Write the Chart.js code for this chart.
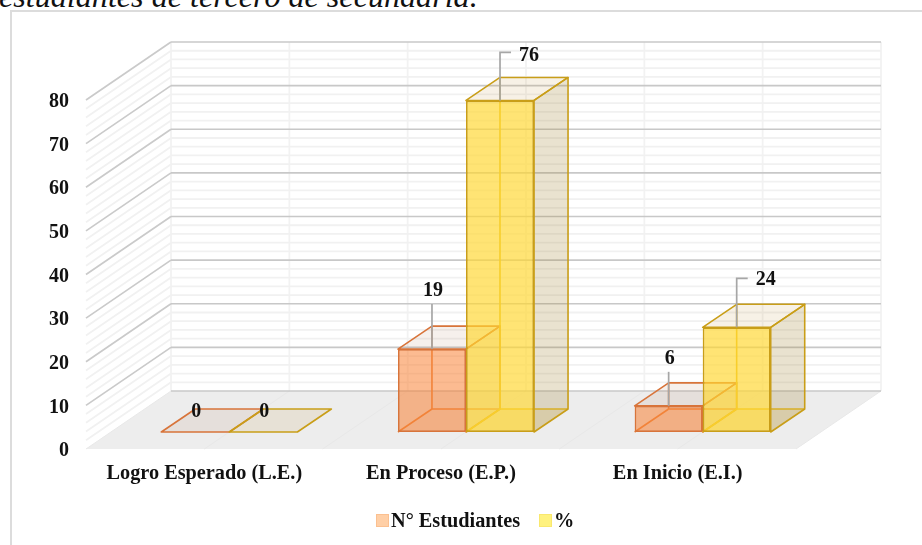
<!DOCTYPE html>
<html lang="es">
<head>
<meta charset="utf-8">
<title>Niveles de logro</title>
<script src="https://cdn.jsdelivr.net/npm/chart.js@4"></script>
<style>
  html, body { margin: 0; padding: 0; background: #fff; overflow: hidden; }
  #wrap { position: relative; width: 922px; height: 545px; overflow: hidden; }
  #caption {
    position: absolute; left: -1px; top: -22px; white-space: nowrap;
    font: italic 32.15px "Liberation Serif", serif; color: #111;
  }
  #frame {
    position: absolute; left: 10px; top: 10px; width: 920px; height: 545px;
    border: 2px solid #dcdcdc; box-sizing: border-box;
  }
  canvas { position: absolute; left: 0; top: 0; }
</style>
</head>
<body>
<div id="wrap">
  <div id="caption">estudiantes de tercero de secundaria.</div>
  <div id="frame"></div>
  <canvas id="chart" width="922" height="545"></canvas>
</div>
<script>
const categories = ["Logro Esperado (L.E.)", "En Proceso (E.P.)", "En Inicio (E.I.)"];
const estudiantes = [0, 19, 6];
const porcentaje = [0, 76, 24];
const seriesNames = ["N° Estudiantes", "%"];

// how far each label and its leader sit above the bar top
const labelRise = [[21, 59, 48], [21, 46, 48]];
const lineRise = [[0, 45, 34], [0, 48, 49]];

const FONT = '"Liberation Serif", serif';
const WALL = { dx: 85, dy: -58 };
const SHIFT = { dx: 25, dy: -17 };
const DEPTH = { dx: 34, dy: -23 };

const looks = [
  {
    edge: "#d8743a", inner: "#ea8a48",
    bottom: "rgba(225,130,70,0.05)", top: "rgba(170,110,70,0.1)", side: "rgba(170,110,70,0.12)",
  },
  {
    edge: "#c99e18", inner: "#e8bb1e",
    bottom: "rgba(215,180,70,0.18)", top: "rgba(190,150,60,0.13)", side: "rgba(165,135,55,0.24)",
  },
];

function line(ctx, x1, y1, x2, y2, color, width) {
  ctx.beginPath();
  ctx.moveTo(x1, y1);
  ctx.lineTo(x2, y2);
  ctx.strokeStyle = color;
  ctx.lineWidth = width;
  ctx.stroke();
}

function poly(ctx, pts, fill, stroke) {
  ctx.beginPath();
  pts.forEach((p, i) => (i ? ctx.lineTo(p[0], p[1]) : ctx.moveTo(p[0], p[1])));
  ctx.closePath();
  if (fill) {
    ctx.fillStyle = fill;
    ctx.fill();
  }
  if (stroke) {
    ctx.strokeStyle = stroke;
    ctx.lineWidth = 1.6;
    ctx.lineJoin = "round";
    ctx.stroke();
  }
}

function drawRoom(chart) {
  const { ctx, scales } = chart;
  const ys = scales.y;
  const left = chart.chartArea.left;
  const right = chart.chartArea.right;
  const floor = ys.getPixelForValue(0);
  const catWidth = (right - left) / categories.length;

  poly(ctx, [
    [left, floor], [right, floor],
    [right + WALL.dx, floor + WALL.dy], [left + WALL.dx, floor + WALL.dy],
  ], "#ededed");

  // floor seams and back wall verticals
  for (let i = 0; i <= categories.length * 2; i++) {
    const px = left + (catWidth / 2) * i;
    line(ctx, px, floor, px + WALL.dx, floor + WALL.dy, "#e8e8e8", 1);
    line(ctx, px + WALL.dx, ys.top + WALL.dy, px + WALL.dx, floor + WALL.dy, "#f2f2f2", 1.8);
  }

  // minor lines every 2, major at the ticks
  for (let v = 0; v <= ys.max; v += 2) {
    if (v % 10 === 0) continue;
    const py = ys.getPixelForValue(v);
    line(ctx, left, py, left + WALL.dx, py + WALL.dy, "#f1f1f1", 1.8);
    line(ctx, left + WALL.dx, py + WALL.dy, right + WALL.dx, py + WALL.dy, "#f1f1f1", 1.8);
  }
  ys.ticks.forEach((t) => {
    const py = ys.getPixelForValue(t.value);
    if (t.value > 0) line(ctx, left, py, left + WALL.dx, py + WALL.dy, "#cacaca", 1.7);
    line(ctx, left + WALL.dx, py + WALL.dy, right + WALL.dx, py + WALL.dy, "#c8c8c8", 1.7);
  });
}

function drawBox(ctx, bar, look) {
  const { x, y, base, width } = bar.getProps(["x", "y", "base", "width"], true);
  const l = x - width / 2;
  const r = x + width / 2;
  const d = DEPTH;

  if (y !== base) {
    poly(ctx, [[l, base], [r, base], [r + d.dx, base + d.dy], [l + d.dx, base + d.dy]], look.bottom);
    line(ctx, l + d.dx, base + d.dy, l + d.dx, y + d.dy, look.inner, 1.6);
    line(ctx, l + d.dx, base + d.dy, r + d.dx, base + d.dy, look.inner, 1.6);
    line(ctx, l, base, l + d.dx, base + d.dy, look.inner, 1.6);
    poly(ctx, [[r, base], [r + d.dx, base + d.dy], [r + d.dx, y + d.dy], [r, y]], look.side, look.edge);
  }
  poly(ctx, [[l, y], [r, y], [r + d.dx, y + d.dy], [l + d.dx, y + d.dy]], look.top, look.edge);
}

function drawValueLabel(chart, ds, i) {
  const { ctx } = chart;
  const bar = chart.getDatasetMeta(ds).data[i];
  const value = chart.data.datasets[ds].data[i];
  const cx = bar.x + SHIFT.dx;
  const topY = bar.y + SHIFT.dy;
  let textX = cx + 1;

  if (value) {
    const stem = lineRise[ds][i];
    ctx.beginPath();
    ctx.moveTo(cx, topY);
    ctx.lineTo(cx, topY - stem);
    if (ds === 1) {
      ctx.lineTo(cx + 11, topY - stem);
      textX = cx + 29;
    }
    ctx.strokeStyle = "#a6a6a6";
    ctx.lineWidth = 1.7;
    ctx.stroke();
  }
  ctx.font = "bold 20px " + FONT;
  ctx.fillStyle = "#111";
  ctx.textAlign = "center";
  ctx.textBaseline = "middle";
  ctx.fillText(String(value), textX, topY - labelRise[ds][i] + 1);
}

function drawLegend(chart) {
  const { ctx } = chart;
  const swatches = [
    { x: 376.5, color: "#ffcfa6", edge: "#fbc090" },
    { x: 539.5, color: "#fff27f", edge: "#f9e86e" },
  ];
  ctx.font = "bold 20.3px " + FONT;
  ctx.textAlign = "left";
  ctx.textBaseline = "middle";
  swatches.forEach((s, i) => {
    ctx.fillStyle = s.color;
    ctx.strokeStyle = s.edge;
    ctx.lineWidth = 1;
    ctx.fillRect(s.x, 514.5, 12, 12);
    ctx.strokeRect(s.x, 514.5, 12, 12);
    ctx.fillStyle = "#111";
    ctx.fillText(chart.data.datasets[i].label, s.x + 14.5, 522);
  });
}

const room3d = {
  id: "room3d",
  beforeDraw(chart) {
    drawRoom(chart);
  },
  // bars are painted together below so yellow ends up over orange
  beforeDatasetDraw() {
    return false;
  },
  afterDatasetsDraw(chart) {
    const { ctx } = chart;
    ctx.save();
    ctx.translate(SHIFT.dx, SHIFT.dy);
    chart.data.datasets.forEach((ds, n) => {
      const meta = chart.getDatasetMeta(n);
      meta.data.forEach((bar) => drawBox(ctx, bar, looks[n]));
      meta.controller.draw();
    });
    ctx.restore();
    chart.data.datasets.forEach((ds, n) => {
      ds.data.forEach((v, i) => drawValueLabel(chart, n, i));
    });
    drawLegend(chart);
  },
};

new Chart(document.getElementById("chart"), {
  type: "bar",
  data: {
    labels: categories,
    datasets: [
      {
        label: seriesNames[0],
        data: estudiantes,
        backgroundColor: "rgba(250,125,45,0.52)",
        borderColor: looks[0].edge,
        borderWidth: 1.7,
        borderSkipped: false,
        inflateAmount: 0,
        clip: false,
      },
      {
        label: seriesNames[1],
        data: porcentaje,
        backgroundColor: "rgba(255,215,50,0.68)",
        borderColor: looks[1].edge,
        borderWidth: 1.7,
        borderSkipped: false,
        inflateAmount: 0,
        clip: false,
      },
    ],
  },
  options: {
    responsive: false,
    animation: false,
    events: [],
    categoryPercentage: 0.575,
    barPercentage: 1,
    layout: { padding: { top: 100, right: 126, left: 0, bottom: 0 } },
    plugins: { legend: { display: false }, tooltip: { enabled: false } },
    scales: {
      x: {
        grid: { display: false, drawTicks: false },
        border: { display: false },
        afterFit: (scale) => { scale.height = 96; },
        ticks: {
          color: "#111",
          padding: 13,
          maxRotation: 0,
          autoSkip: false,
          font: { family: FONT, size: 20.3, weight: "bold" },
        },
      },
      y: {
        min: 0,
        max: 80,
        grid: { display: false, drawTicks: false },
        border: { display: false },
        afterFit: (scale) => { scale.width = 86; },
        ticks: {
          color: "#111",
          padding: 17,
          stepSize: 10,
          labelOffset: 2,
          font: { family: FONT, size: 20, weight: "bold" },
        },
      },
    },
  },
  plugins: [room3d],
});
</script>
</body>
</html>
